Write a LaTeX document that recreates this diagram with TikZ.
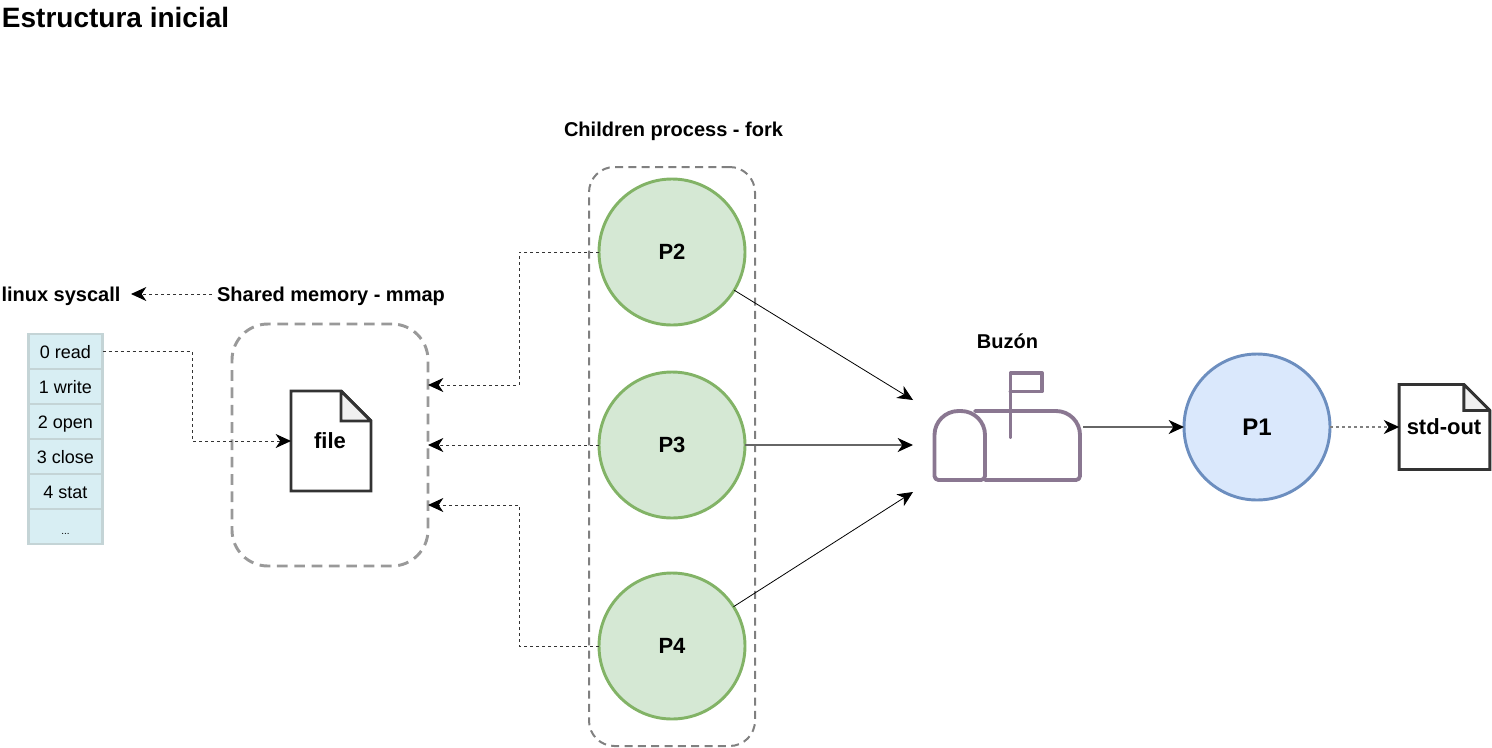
\documentclass[tikz,border=0pt]{standalone}
\usepackage{fontspec}
\setmainfont{Liberation Sans}
\usetikzlibrary{arrows.meta,calc}
\definecolor{procgreen}{HTML}{D5E8D4}
\definecolor{procgreenline}{HTML}{82B366}
\definecolor{procblue}{HTML}{DAE8FC}
\definecolor{procblueline}{HTML}{6C8EBF}
\definecolor{cellfill}{HTML}{D8EEF3}
\definecolor{cellline}{HTML}{C4D4D6}
\definecolor{mailline}{HTML}{8A7791}
\tikzset{
    tip/.tip={Stealth[length=11.5pt,width=10.5pt,inset=3.5pt,color=black]},
    every node/.style={outer sep=0pt, inner sep=0pt},
    label/.style={font=\fontsize{15}{18}\selectfont\bfseries},
    process/.style={circle, minimum size=109.5pt, line width=2.2pt, font=\fontsize{16.5}{20}\selectfont\bfseries},
    cell/.style={rectangle, draw=cellline, fill=cellfill, line width=1.6pt, minimum width=55.5pt, minimum height=26.25pt,
        text height=12pt, text depth=1.5pt, font=\fontsize{13.5}{16}\selectfont},
    doc/.style={rectangle, font=\fontsize{16.5}{20}\selectfont\bfseries},
    docline/.style={draw=black!80, line width=2.2pt, line join=miter, miter limit=2},
    dashlink/.style={-{tip}, black!80, line width=.75pt, dash pattern=on 2.25pt off 2.25pt},
    solidlink/.style={-{tip}, line width=.6pt},
    mailpath/.style={draw=mailline, line width=2.9pt, line join=round, line cap=round}
}
\begin{document}
\begin{tikzpicture}[x=.75pt, y=-.75pt]
    \useasboundingbox (0,0) rectangle (1492,747);

    % Titles
        \node[anchor=west, font=\fontsize{21}{25}\selectfont\bfseries] (title) at (2,17.5) {Estructura inicial};
        \node[label] (childrenlabel) at (673.5,131) {Children process - fork};
        \node[label] (syscalllabel) at (61,296) {linux syscall};
        \node[label] (sharedlabel) at (331,296) {Shared memory - mmap};
        \node[label] (mailboxlabel) at (1007.5,341) {Buzón};

    % Dashed groups
        \node[rectangle, draw=black!40, line width=2.2pt, rounded corners=27pt, dash pattern=on 8pt off 5pt,
            minimum width=147pt, minimum height=181.5pt] (memory) at (330,445) {};
        \node[rectangle, draw=black!50, line width=1.5pt, rounded corners=19pt, dash pattern=on 6pt off 4pt,
            minimum width=124.5pt, minimum height=434.25pt] (children) at (672,456.5) {};

    % Syscall table
        \foreach \k/\txt in {0/0 read, 1/1 write, 2/2 open, 3/3 close, 4/4 stat} {
            \pgfmathsetmacro{\rowy}{351.5 + \k * 35}
            \node[cell] (cell\k) at (65.5,\rowy) {\txt};
        }
        \node[cell, text height=12pt, text depth=0pt, font=\fontsize{7.5}{9}\selectfont] (cell5) at (65.5,526.5) {...};

    % File shapes
        \node[doc, minimum width=60pt, minimum height=75pt] (file) at (331,441) {};
        \node[doc, minimum width=68pt, minimum height=63.75pt] (stdout) at (1444.5,427) {};
        \draw[docline, fill=white] ($(file.north east)+(-30,0)$) -- (file.north west) -- (file.south west) -- (file.south east) -- ($(file.north east)+(0,30)$) -- cycle;
        \draw[docline, fill=black!6] ($(file.north east)+(-30,0)$) -- ($(file.north east)+(-30,30)$) -- ($(file.north east)+(0,30)$) -- cycle;
        \draw[docline, fill=white] ($(stdout.north east)+(-26,0)$) -- (stdout.north west) -- (stdout.south west) -- (stdout.south east) -- ($(stdout.north east)+(0,26)$) -- cycle;
        \draw[docline, fill=black!6] ($(stdout.north east)+(-26,0)$) -- ($(stdout.north east)+(-26,26)$) -- ($(stdout.north east)+(0,26)$) -- cycle;
        \node[doc] (filetext) at (330,441) {file};
        \node[doc] (stdouttext) at (1444,427) {std-out};

    % Processes
        \foreach \name/\y in {P2/252, P3/445, P4/646} {
            \node[process, draw=procgreenline, fill=procgreen] (\name) at (672,\y) {\name};
        }
        \node[process, draw=procblueline, fill=procblue, font=\fontsize{18}{22}\selectfont\bfseries] (P1) at (1257,427) {P1};

    % Mailbox
        \draw[mailpath] (960,480) [rounded corners=3pt] -- (934.5,480) [rounded corners=18pt] -- (934.5,411) -- (985,411) [rounded corners=3pt] -- (985,480) -- cycle;
        \draw[mailpath] (975,411) [rounded corners=18pt] -- (1080,411) [rounded corners=3pt] -- (1080,480) -- (985,480);
        \draw[mailpath] (1010.5,437) -- (1010.5,373) -- (1042,373) -- (1042,391.5) -- (1010.5,391.5);

    % Free ends
        \coordinate (memA) at (428,385);
        \coordinate (memB) at (428,445);
        \coordinate (memC) at (428,505);
        \coordinate (turnA) at (519,385);
        \coordinate (turnC) at (519,505);
        \coordinate (turnfile) at (192,441);
        \coordinate (mailA) at (913,400);
        \coordinate (mailB) at (913,445);
        \coordinate (mailC) at (913,492);
        \coordinate (mailout) at (1083,427);
        \coordinate (syscallend) at (121,294);
        \coordinate (sharedstart) at (217,294);

    % Connectors
        \draw[dashlink, shorten >=7.5pt, shorten <=3.75pt] (sharedstart) -- (syscallend);
        \draw[dashlink] (cell0.east) -| (turnfile) -- (file.west);
        \draw[dashlink] (P2.west) -| (turnA) -- (memA);
        \draw[dashlink] (P3.west) -- (memB);
        \draw[dashlink] (P4.west) -| (turnC) -- (memC);
        \draw[solidlink] (P2) -- (mailA);
        \draw[solidlink, black!60, line width=.9pt] (P3) -- (mailB);
        \draw[solidlink] (P4) -- (mailC);
        \draw[solidlink, black!60, line width=1.1pt] (mailout) -- (P1.west);
        \draw[dashlink, black!50, line width=1.1pt] (P1.east) -- (stdout.west);
\end{tikzpicture}
\end{document}
